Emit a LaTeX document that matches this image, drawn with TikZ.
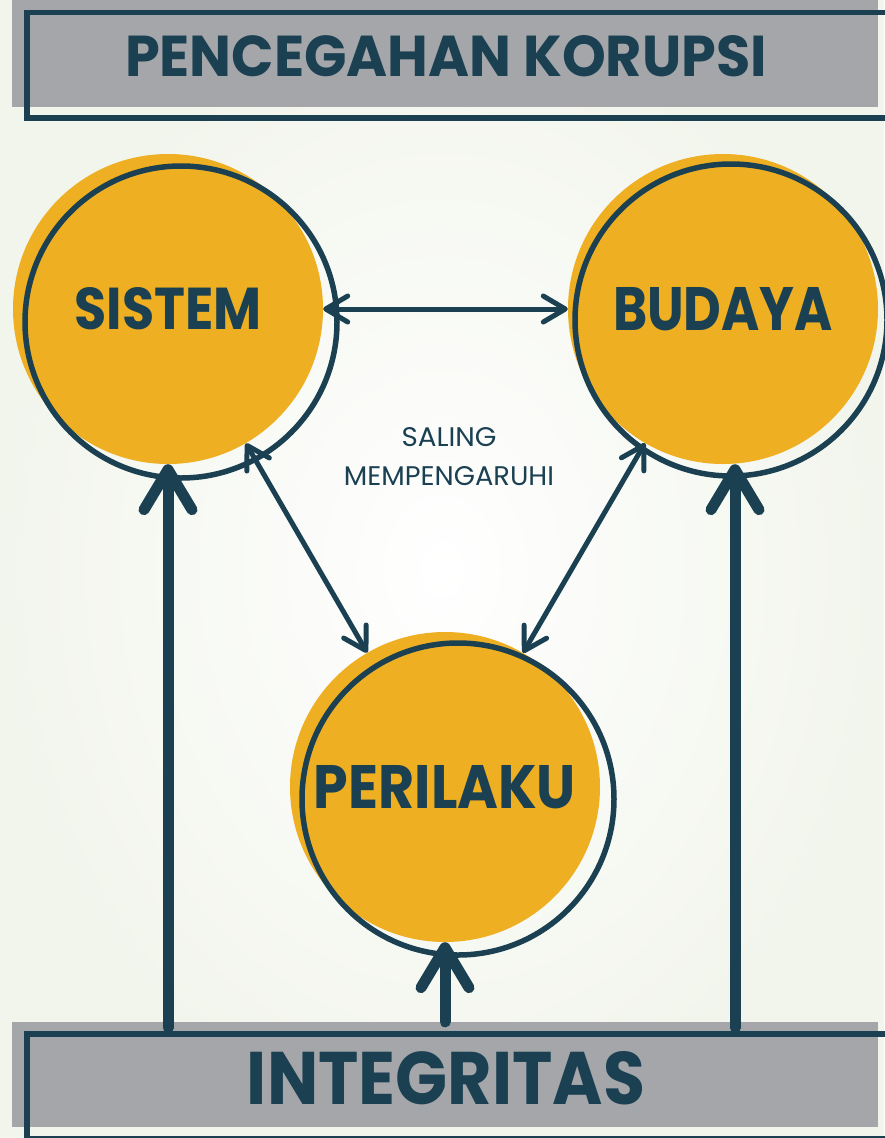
\documentclass[tikz,border=0pt]{standalone}
\usepackage{fontspec}
\setmainfont{Poppins}
\usepackage{graphicx}
\usetikzlibrary{arrows.meta,calc}
\definecolor{dk}{HTML}{1A4052}
\definecolor{yl}{HTML}{EEAF22}
\definecolor{gr}{HTML}{A5A6AA}
\definecolor{bgc}{HTML}{F2F5EC}
\begin{document}
\begin{tikzpicture}[x=1pt,y=-1pt,
  ball/.style={circle, fill=yl, minimum size=310pt, inner sep=0pt, text=dk, font=\bfseries},
  ring/.style={draw=dk, line width=5.5pt},
  bar/.style={fill=gr, inner sep=0pt, minimum width=866pt},
  frame/.style={draw=dk, line width=5.5pt},
  link/.style={draw=dk, line width=5pt, line cap=round,
    {Straight Barb[length=22pt,width=26pt,round]}-{Straight Barb[length=22pt,width=26pt,round]}},
  lift/.style={draw=dk, line width=11pt, line cap=round,
    -{Straight Barb[length=40pt,width=48pt,round]}},
  heading/.style={text=dk, font=\bfseries, inner sep=0pt},
]
\useasboundingbox (0,0) rectangle (884,1138);
\shade[inner color=white, outer color=bgc] (0,0) rectangle (884,1138);

% header
\node[bar, minimum height=107pt] (topbar) at (445,53.5) {};
\draw[frame] (27,12.5) rectangle (900,118);
\node[heading] (title) at (446,56.5) {\resizebox{642pt}{41pt}{PENCEGAHAN KORUPSI}};

% footer
\node[bar, minimum height=105pt] (intbox) at (445,1074.5) {};
\draw[frame] (27,1034) rectangle (900,1139);
\node[heading] (integ) at (446,1078.5) {\resizebox{398pt}{53pt}{INTEGRITAS}};

% circles
\node[ball] (sis) at (168,309) {\resizebox{187pt}{42pt}{SISTEM}};
\node[ball] (bud) at (723,309) {\resizebox{220pt}{43pt}{BUDAYA}};
\node[ball] (per) at (445,787) {\resizebox{262pt}{43pt}{PERILAKU}};
\draw[ring] ($(sis.center)+(13,13)$) circle[radius=156pt];
\draw[ring] ($(bud.center)+(8,11)$) circle[radius=156pt];
\draw[ring] ($(per.center)+(13,12)$) circle[radius=156pt];

% mutual links
\draw[link] (sis) -- (bud);
\draw[link] (sis) -- (per);
\draw[link] (bud) -- (per);

\node[text=dk, align=center, inner sep=0pt, font=\fontsize{20}{39}\selectfont] (lbl) at (449,456.5)
  {\resizebox{95pt}{19pt}{SALING}\\\resizebox{210pt}{19pt}{MEMPENGARUHI}};

% integrity lifts
\path (sis.south |- intbox.north) coordinate (fs);
\path (per.south |- intbox.north) coordinate (fp);
\coordinate (btip) at ([xshift=12pt]bud.south);
\path (btip |- intbox.north) coordinate (fb);
\draw[lift] ([yshift=-6pt]fs) -- (sis.south);
\draw[lift] (fp) -- (per.south);
\draw[lift] ([yshift=-6pt]fb) -- (btip);
\end{tikzpicture}
\end{document}
